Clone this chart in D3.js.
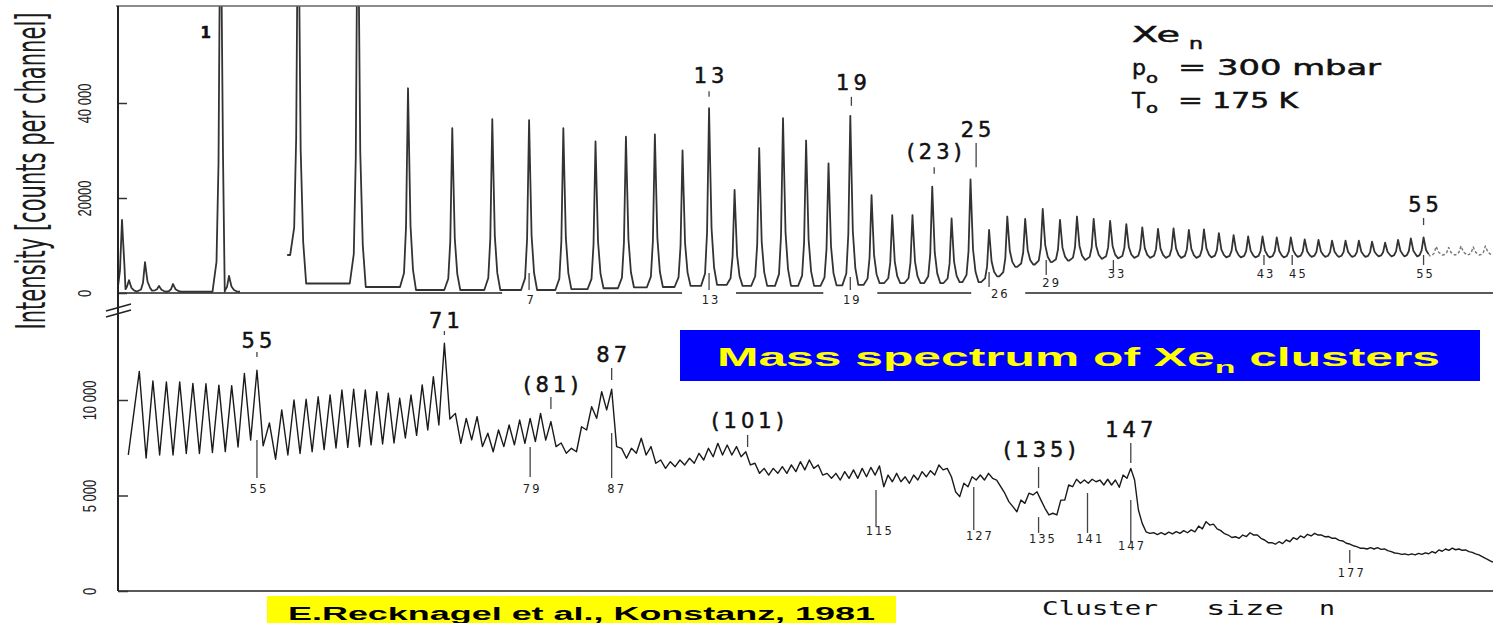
<!DOCTYPE html>
<html>
<head>
<meta charset="utf-8">
<script src="https://cdn.jsdelivr.net/npm/d3@7"></script>
<style>
  body { margin: 0; background: #fff; }
  svg { display: block; font-family: "DejaVu Sans", sans-serif; }
  .trace { fill: none; stroke-linejoin: round; }
  .mark { stroke: #444; stroke-width: 1.3; }
  .big { font-size: 21px; fill: #111; stroke: #111; stroke-width: 0.5px; letter-spacing: 4px; text-anchor: middle; }
  .small { font-size: 11.5px; fill: #222; letter-spacing: 2px; text-anchor: middle; }
  .yaxis .domain { display: none; }
  .yaxis line { stroke: #333; stroke-width: 1.5; }
  .yaxis text { font-size: 13px; fill: #222; }
</style>
</head>
<body>
<script>
// ---- top panel: cluster sizes 1..60 (peak heights in counts per channel)
var topMinorN = [0.2253, 0.2621, 0.3568, 0.4516, 0.5575, 1, 1.0927];
var topMinorPeak = [15400, 2700, 6500, 1500, 1900, 90000, 3600];
var topMinorValley = [300, 800, 300, 500, 300, 300, 300, 300];

var topN = d3.range(2, 61);
var topPeak = [90000, 90000, 43100, 34700, 36600, 36400, 34700, 31900, 32900, 33400,
  30000, 38900, 21700, 30500, 36800, 32100, 27300, 37300, 20600, 16400,
  16400, 22400, 15700, 23900, 13300, 16100, 15600, 17700, 15400, 16100,
  15600, 15200, 14500, 13800, 13500, 13600, 13300, 13400, 12600, 12200,
  11900, 11900, 11700, 11700, 11300, 11200, 11000, 11000, 11000, 10800,
  10600, 11200, 11500, 11700, 9800, 9600, 9900, 9700, 9900];
var topValley = [8000, 2000, 1260, 630, 630, 630, 630, 800, 1000, 1200,
  1260, 1500, 1700, 1500, 1500, 1500, 1500, 1600, 1700, 2100,
  2100, 2100, 2100, 2300, 2300, 3500, 5500, 6000, 6500, 6800,
  7000, 7200, 7300, 7400, 7400, 7400, 7400, 7400, 7500, 7500,
  7500, 7500, 7500, 7500, 7600, 7600, 7600, 7600, 7600, 7600,
  7700, 7700, 7700, 7700, 7800, 8000, 8000, 8000, 8000, 8000];

// ---- bottom panel: cluster sizes 46..198
var botN = d3.range(46, 199);
var botPeak = [11500, 11000, 10950, 10950, 10870, 10850, 10780, 10750, 11390, 11560,
  8800, 9480, 10000, 10040, 10170, 10260, 10520, 10560, 10520, 10440,
  10350, 10090, 10260, 10790, 11220, 12970, 9300, 9040, 9130, 8260,
  8430, 8690, 8950, 9040, 9300, 8870, 7750, 7470, 8600, 9650,
  10440, 10560, 7470, 7470, 8000, 7560, 6860, 6770, 6860, 6950,
  7210, 7470, 7730, 7640, 7560, 7290, 6690, 6420, 6420, 6510,
  6600, 6770, 6860, 6600, 6160, 6160, 6250, 6340, 6420, 6470,
  6550, 6070, 6160, 5980, 6070, 6250, 6300, 6600, 6420, 5200,
  5640, 5980, 6070, 6160, 5810, 5120, 4420, 4760, 5120, 5200,
  4330, 4070, 4760, 5550, 5850, 5810, 5850, 5810, 5850, 5810,
  6070, 6420, 4240, 3100, 3050, 3050, 3080, 3110, 3160, 3200,
  3400, 3630, 3500, 3160, 2930, 2840, 2930, 3050, 2930, 2670,
  2530, 2580, 2670, 2790, 2880, 2970, 3020, 2930, 2850, 2760,
  2620, 2460, 2320, 2240, 2270, 2270, 2200, 2060, 1970, 1940,
  1940, 1970, 2000, 2060, 2150, 2200, 2240, 2200, 2150, 2020,
  1890, 1710, 1530];
var botValley = [7130,
  6960, 7120, 7120, 7200, 7200, 7250, 7300, 7540, 7900, 7600,
  6900, 7120, 7200, 7290, 7400, 7490, 7520, 7560, 7650, 7700,
  7750, 8010, 8150, 8430, 8690, 9000, 7730, 7910, 7560, 7290,
  7560, 7650, 7730, 7820, 7900, 7560, 7210, 7290, 8430, 9040,
  9480, 7560, 6950, 7210, 7120, 6690, 6420, 6510, 6600, 6690,
  6860, 7030, 7120, 7120, 7030, 6600, 6160, 6070, 6160, 6160,
  6250, 6340, 6420, 6070, 5900, 5810, 5900, 5900, 5980, 6070,
  5460, 5720, 5720, 5640, 5810, 5980, 6070, 6340, 5980, 4940,
  5460, 5810, 5810, 5900, 5460, 4680, 4150, 4590, 5030, 4760,
  3980, 3980, 4760, 5460, 5640, 5640, 5720, 5550, 5550, 5430,
  5900, 5810, 3540, 3020, 2950, 2950, 2990, 3020, 3050, 3100,
  3250, 3450, 3250, 3000, 2800, 2760, 2850, 2930, 2760, 2530,
  2450, 2480, 2580, 2700, 2790, 2880, 2930, 2840, 2760, 2650,
  2500, 2370, 2240, 2200, 2200, 2180, 2110, 1990, 1920, 1890,
  1890, 1920, 1950, 1990, 2080, 2130, 2160, 2130, 2060, 1940,
  1800, 1620, 1450];

// ---- axis ticks
var topTicks = [0, 20000, 40000], topTickText = ["0", "20000", "40 000"];
var botTicks = [0, 5000, 10000], botTickText = ["0", "5 000", "10 000"];

// ---- annotations (n = label position, tn = tick position, level/tick in counts)
var topPeakLabels = [
  {text: "1", n: 0.83, level: 53700},
  {text: "13", n: 13, level: 44200, tick: [41300, 42500]},
  {text: "19", n: 19.05, level: 42700, tick: [39400, 41300]},
  {text: "(23)", n: 23.1, level: 28200, tick: [25100, 26500]},
  {text: "25", n: 25.3, level: 32800, tick: [26500, 31600]},
  {text: "55", n: 55, level: 17050, tick: [14300, 15800]}
];
var topSmallLabels = [
  {text: "7", n: 7, level: -2300, tick: [630, 4200]},
  {text: "13", n: 13, level: -2300, tick: [630, 4200]},
  {text: "19", n: 19, level: -2300, tick: [630, 3370]},
  {text: "26", n: 26.5, tn: 26, level: -1050, tick: [1260, 4420]},
  {text: "29", n: 29.4, tn: 29.2, level: 1260, tick: [3790, 6950]},
  {text: "33", n: 33.3, tn: 33.2, level: 3160, tick: [4840, 6950]},
  {text: "43", n: 43.1, level: 3160, tick: [5900, 8000]},
  {text: "45", n: 45.4, tn: 45.1, level: 3160, tick: [5900, 8000]},
  {text: "55", n: 55, level: 3160, tick: [5900, 8000]}
];
var botPeakLabels = [
  {text: "55", n: 55, level: 12720, tick: [12250, 12510]},
  {text: "71", n: 71, level: 13770, tick: [13400, 13610]},
  {text: "(81)", n: 81, level: 10420, tick: [9530, 10160]},
  {text: "87", n: 87, level: 11990, tick: [11050, 11680]},
  {text: "(101)", n: 101.2, level: 8530, tick: [7540, 8170]},
  {text: "(135)", n: 135.3, tn: 135.2, level: 7020, tick: [5390, 6490]},
  {text: "147", n: 146.8, tn: 147, level: 8060, tick: [6700, 7750]}
];
var botSmallLabels = [
  {text: "55", n: 55, level: 5130, tick: [5920, 7910]},
  {text: "79", n: 79, level: 5130, tick: [5970, 7540]},
  {text: "87", n: 87.3, tn: 87, level: 5130, tick: [5920, 8270]},
  {text: "115", n: 115.8, tn: 115.6, level: 2930, tick: [3350, 5290]},
  {text: "127", n: 127.7, tn: 127.2, level: 2670, tick: [3190, 5450]},
  {text: "135", n: 135.5, tn: 135.2, level: 2510, tick: [3040, 3870]},
  {text: "141", n: 141.5, tn: 141.4, level: 2510, tick: [3040, 5130]},
  {text: "147", n: 146.9, tn: 147, level: 2150, tick: [2510, 4760]},
  {text: "177", n: 177, level: 730, tick: [1470, 2150]}
];

var W = 1493, H = 623;
var svg = d3.select("body").append("svg").attr("width", W).attr("height", H);

// time-of-flight axis: position goes with sqrt(n)
var xTop = d3.scaleSqrt().domain([0, 60.63]).range([33, 1493]);
var yTop = d3.scaleLinear().domain([0, 40000]).range([293, 103]);
var xBot = d3.scaleSqrt().domain([0, 200]).range([-1119.5, -1119.5 + 185.6 * Math.sqrt(200)]);
var yBot = d3.scaleLinear().domain([0, 10000]).range([591, 400]);

var defs = svg.append("defs");
defs.append("clipPath").attr("id", "clipTop").append("rect")
  .attr("x", 119).attr("y", 6).attr("width", W - 119).attr("height", 300);
defs.append("clipPath").attr("id", "clipBot").append("rect")
  .attr("x", 119).attr("y", 300).attr("width", W - 119).attr("height", 300);

// shape of a single peak: [pixel offset, fraction of height above the valley]
var sharpPeak = [[-8, 0], [-4, 0.07], [-2, 0.3], [-1, 0.65], [0, 1], [1, 0.72], [2.5, 0.32], [5, 0.1], [8, 0]];
var zigzag = [[0, 1]];

function peakPoints(ns, peaks, valleys, x, y, shape) {
  var pts = [];
  ns.forEach(function (n, i) {
    var xc = x(n);
    var xl = i > 0 ? (x(ns[i - 1]) + xc) / 2 : xc - 11;
    var xr = i < ns.length - 1 ? (x(ns[i + 1]) + xc) / 2 : xc + 11;
    if (i === 0) pts.push([xl, y(valleys[0])]);
    shape.forEach(function (s) {
      var px = xc + s[0];
      if (px <= xl || px >= xr) return;
      var v = s[0] < 0 ? valleys[i] : valleys[i + 1];
      pts.push([px, y(v + s[1] * (peaks[i] - v))]);
    });
    pts.push([xr, y(valleys[i + 1])]);
  });
  return pts;
}

var line = d3.line();

// ---------- top panel
var gTop = svg.append("g").attr("clip-path", "url(#clipTop)");
gTop.append("path").attr("class", "trace")
  .attr("d", line(peakPoints(topMinorN, topMinorPeak, topMinorValley, xTop, yTop, sharpPeak)))
  .attr("stroke", "#333").attr("stroke-width", 1.8);

var topPts = peakPoints(topN, topPeak, topValley, xTop, yTop, sharpPeak);
var split = topPts.findIndex(function (p) { return p[0] > xTop(55.5) - 0.5; });
gTop.append("path").attr("class", "trace")
  .attr("d", line(topPts.slice(0, split)))
  .attr("stroke", "#333").attr("stroke-width", 1.8);
gTop.append("path").attr("class", "trace")
  .attr("d", line(topPts.slice(split - 1)))
  .attr("stroke", "#777").attr("stroke-width", 1.4).attr("stroke-dasharray", "3,2");

// frame top
svg.append("line").attr("x1", 116).attr("x2", W).attr("y1", 6).attr("y2", 6)
  .attr("stroke", "#666").attr("stroke-width", 1.5);

// broken baseline of the top panel (gaps where numbers sit)
var gaps = topSmallLabels.filter(function (d) { return d.level < 0; })
  .map(function (d) { return xTop(d.n); });
var segs = [], start = 118;
gaps.forEach(function (g) { segs.push([start, g - 27]); start = g + 27; });
segs.push([start, W]);
svg.selectAll(".baseTop").data(segs).enter().append("line")
  .attr("class", "baseTop")
  .attr("x1", function (d) { return d[0]; }).attr("x2", function (d) { return d[1]; })
  .attr("y1", yTop(0)).attr("y2", yTop(0))
  .attr("stroke", "#222").attr("stroke-width", 1.6);

// ---------- bottom panel
var gBot = svg.append("g").attr("clip-path", "url(#clipBot)");
gBot.append("path").attr("class", "trace")
  .attr("d", line(peakPoints(botN, botPeak, botValley, xBot, yBot, zigzag)))
  .attr("stroke", "#1a1a1a").attr("stroke-width", 1.4);

svg.append("line").attr("x1", 118).attr("x2", W).attr("y1", yBot(0)).attr("y2", yBot(0))
  .attr("stroke", "#222").attr("stroke-width", 1.6);

// ---------- y axes
function styleAxis(g, texts, shift) {
  g.selectAll(".tick text")
    .text(function (d, i) { return texts[i]; })
    .attr("x", 0).attr("dy", 0)
    .attr("text-anchor", "middle")
    .attr("transform", "translate(" + shift + ",0) scale(1.35,1) rotate(-90)");
}
var gyTop = svg.append("g").attr("class", "yaxis").attr("transform", "translate(118,0)")
  .call(d3.axisLeft(yTop).tickValues(topTicks).tickSize(-9).tickSizeOuter(0));
styleAxis(gyTop, topTickText, -27);
var gyBot = svg.append("g").attr("class", "yaxis").attr("transform", "translate(118,0)")
  .call(d3.axisLeft(yBot).tickValues(botTicks).tickSize(-10).tickSizeOuter(0));
styleAxis(gyBot, botTickText, -22);

svg.append("line").attr("x1", 118).attr("x2", 118).attr("y1", 6).attr("y2", yBot(0))
  .attr("stroke", "#222").attr("stroke-width", 2);
// axis break marks
[0, 6].forEach(function (o) {
  svg.append("line").attr("x1", 106).attr("y1", 311 + o).attr("x2", 131).attr("y2", 304 + o)
    .attr("stroke", "#222").attr("stroke-width", 1.5);
});

svg.append("text")
  .attr("transform", "translate(45,171) scale(2,1) rotate(-90)")
  .attr("text-anchor", "middle")
  .attr("textLength", 317).attr("lengthAdjust", "spacingAndGlyphs")
  .style("font-size", "20.5px").style("fill", "#1a1a1a")
  .text("Intensity [counts per channel]");

// ---------- annotations
function annotate(data, x, y, cls) {
  var g = svg.append("g");
  g.selectAll("line").data(data.filter(function (d) { return d.tick; })).enter().append("line")
    .attr("class", "mark")
    .attr("x1", function (d) { return x(d.tn || d.n); })
    .attr("x2", function (d) { return x(d.tn || d.n); })
    .attr("y1", function (d) { return y(d.tick[0]); })
    .attr("y2", function (d) { return y(d.tick[1]); })
    .attr("stroke-width", function (d) { return cls === "big" && d.text === "25" ? 2.6 : 1.3; });
  g.selectAll("text").data(data).enter().append("text")
    .attr("class", cls)
    .attr("x", function (d) { return x(d.n) + 2; })
    .attr("y", function (d) { return y(d.level); })
    .text(function (d) { return d.text; });
  return g;
}
annotate(topPeakLabels, xTop, yTop, "big")
  .selectAll("text").filter(function (d) { return d.text === "1"; })
  .style("font-size", "15px").style("font-weight", "bold").style("letter-spacing", "0");
annotate(topSmallLabels, xTop, yTop, "small");
annotate(botPeakLabels, xBot, yBot, "big");
annotate(botSmallLabels, xBot, yBot, "small");

// ---------- legend text (top right)
function txt(s, x, y, size, len, extra) {
  var t = svg.append("text").attr("x", x).attr("y", y)
    .attr("textLength", len).attr("lengthAdjust", "spacingAndGlyphs")
    .style("font-size", size + "px").style("fill", "#111").text(s);
  if (extra) extra(t);
  return t;
}
function heavy(t) { t.style("stroke", "#111").style("stroke-width", "0.5px"); }
txt("Xe", 1132, 42, 21, 48, heavy);
txt("n", 1189, 49, 15, 14, heavy);
txt("p", 1132, 75, 21, 14, heavy);
txt("o", 1146, 83, 14, 12, heavy);
txt("= 300 mbar", 1178, 75, 21, 203, heavy);
txt("T", 1132, 108, 21, 13, heavy);
txt("o", 1146, 113, 14, 12, heavy);
txt("= 175 K", 1178, 108, 21, 120, heavy);

// x axis title
function mono(t) { t.style("font-family", "'DejaVu Sans Mono', monospace"); }
txt("Cluster", 1042, 615, 20, 116, mono);
txt("size", 1206, 615, 20, 78, mono);
txt("n", 1319, 615, 20, 16, mono);

// ---------- title box
svg.append("rect").attr("x", 680).attr("y", 330).attr("width", 800).attr("height", 51)
  .attr("fill", "#0000ff");
var title = svg.append("text").attr("x", 717).attr("y", 366)
  .attr("textLength", 723).attr("lengthAdjust", "spacingAndGlyphs")
  .style("font-family", "'Liberation Sans', Arial, sans-serif")
  .style("font-weight", "bold").style("font-size", "25px").style("fill", "#ffff00");
title.append("tspan").text("Mass spectrum of Xe");
title.append("tspan").attr("dy", 7).style("font-size", "17px").text("n");
title.append("tspan").attr("dy", -7).text(" clusters");

// ---------- citation box
svg.append("rect").attr("x", 267).attr("y", 596).attr("width", 629).attr("height", 27)
  .attr("fill", "#ffff00");
svg.append("text").attr("x", 288).attr("y", 620)
  .attr("textLength", 587).attr("lengthAdjust", "spacingAndGlyphs")
  .style("font-family", "'Liberation Sans', Arial, sans-serif")
  .style("font-weight", "bold").style("font-size", "18px").style("fill", "#000")
  .text("E.Recknagel et al., Konstanz, 1981");
</script>
</body>
</html>
